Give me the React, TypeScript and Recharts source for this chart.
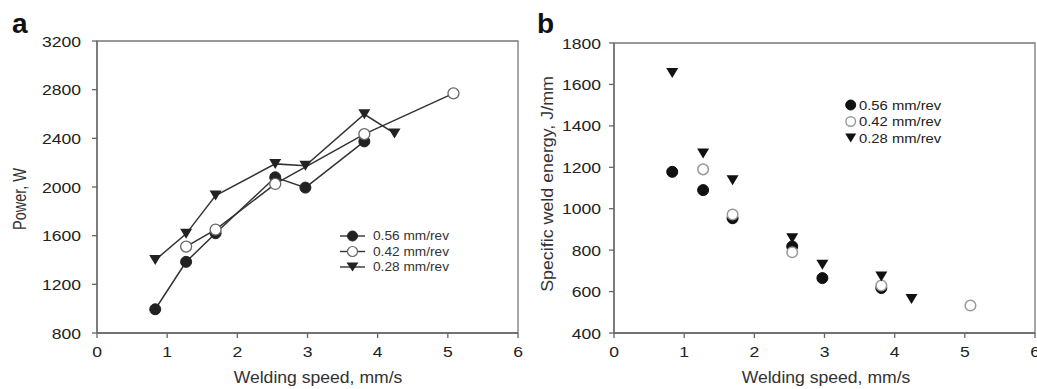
import { ScatterChart, Scatter, XAxis, YAxis, ReferenceArea, Legend } from "recharts"

// welding speed, mm/s
const speedsFull = [0.83, 1.27, 1.69, 2.54, 2.97, 3.81]
const speeds042 = [1.27, 1.69, 2.54, 3.81, 5.08]
const speeds028 = [0.83, 1.27, 1.69, 2.54, 2.97, 3.81, 4.24]

// panel a: power, W
const power056 = [995, 1385, 1620, 2080, 1995, 2375]
const power042 = [1510, 1650, 2025, 2435, 2770]
const power028 = [1400, 1615, 1930, 2190, 2175, 2598, 2440]

// panel b: specific weld energy, J/mm
const energy056 = [1178, 1090, 954, 818, 665, 617]
const energy042 = [1190, 972, 790, 629, 533]
const energy028 = [1655, 1267, 1138, 858, 729, 673, 564]

const seriesNames = ["0.56 mm/rev", "0.42 mm/rev", "0.28 mm/rev"]
const xTicks = [0, 1, 2, 3, 4, 5, 6]
const powerTicks = [800, 1200, 1600, 2000, 2400, 2800, 3200]
const energyTicks = [400, 600, 800, 1000, 1200, 1400, 1600, 1800]

const FONT = "'Liberation Sans', Arial, sans-serif"
const AXIS = "#666"

const toPoints = (xs: number[], ys: number[]) => xs.map((x, i) => ({ x, y: ys[i] }))

const dot = (r: number, fill: string, stroke: string, sw = 1) => (p: any) =>
  <circle cx={p.cx} cy={p.cy} r={r} fill={fill} stroke={stroke} strokeWidth={sw} />

const tri = (w: number, h: number, fill: string) => (p: any) =>
  <path d={`M${p.cx - w / 2},${p.cy - h / 2}L${p.cx + w / 2},${p.cy - h / 2}L${p.cx},${p.cy + h / 2}Z`} fill={fill} />

const XTick = (p: any) => (
  <text transform={`translate(${p.x},${p.y}) scale(1.17,1)`} dy={17} textAnchor="middle"
    fontSize={15} fontFamily={FONT} fill="#222">{p.payload.value}</text>
)

const YTick = (p: any) => (
  <text transform={`translate(${p.x},${p.y}) scale(1.17,1)`} dy={5.5} textAnchor="end"
    fontSize={15} fontFamily={FONT} fill="#222">{p.payload.value}</text>
)

const LegendA = () => (
  <svg width={140} height={48} style={{ display: "block" }}>
    {seriesNames.map((name, i) => {
      const cy = 8 + i * 15.5
      return (
        <g key={name}>
          <line x1={2} x2={27} y1={cy} y2={cy} stroke="#333" strokeWidth={1.4} />
          {i === 0 && dot(5, "#222", "#222")({ cx: 14.5, cy })}
          {i === 1 && dot(5, "#fff", "#666", 1.2)({ cx: 14.5, cy })}
          {i === 2 && tri(12, 9, "#222")({ cx: 14.5, cy })}
          <text transform={`translate(35,${cy}) scale(1.14,1)`} dy={4.3} fontSize={12}
            fontFamily={FONT} fill="#333">{name}</text>
        </g>
      )
    })}
  </svg>
)

const LegendB = () => (
  <svg width={140} height={52} style={{ display: "block" }}>
    {seriesNames.map((name, i) => {
      const cy = 10 + i * 16.5
      return (
        <g key={name}>
          {i === 0 && dot(5, "#111", "#111")({ cx: 10.7, cy })}
          {i === 1 && dot(4.8, "#fff", "#999", 1.4)({ cx: 10.7, cy })}
          {i === 2 && tri(11, 9, "#111")({ cx: 10.7, cy })}
          <text transform={`translate(19,${cy}) scale(1.14,1)`} dy={4.6} fontSize={13}
            fontFamily={FONT} fill="#222">{name}</text>
        </g>
      )
    })}
  </svg>
)

function PowerChart() {
  const line = { stroke: "#333", strokeWidth: 1.5 }
  return (
    <ScatterChart width={520} height={389} margin={{ top: 41, right: 2, bottom: 26, left: 37 }}>
      <XAxis type="number" dataKey="x" domain={[0, 6]} ticks={xTicks} interval={0} height={30}
        tickSize={5} tickMargin={2} stroke={AXIS} strokeWidth={1.3} tick={XTick} />
      <YAxis type="number" dataKey="y" domain={[800, 3200]} ticks={powerTicks} interval={0} width={60}
        tickSize={5} tickMargin={11} stroke={AXIS} strokeWidth={1.3} tick={YTick} />
      <ReferenceArea x1={0} x2={6} y1={800} y2={3200} fill="none" stroke="#777" strokeWidth={1.3} fillOpacity={0} />
      <Legend layout="horizontal" align="center" verticalAlign="middle" content={LegendA}
        wrapperStyle={{ left: 338, top: 228, width: 140 }} />
      <Scatter name={seriesNames[0]} data={toPoints(speedsFull, power056)} line={line} lineType="joint"
        shape={dot(5.5, "#222", "#222")} isAnimationActive={false} />
      <Scatter name={seriesNames[1]} data={toPoints(speeds042, power042)} line={line} lineType="joint"
        shape={dot(5.5, "#fff", "#666", 1.3)} isAnimationActive={false} />
      <Scatter name={seriesNames[2]} data={toPoints(speeds028, power028)} line={line} lineType="joint"
        shape={tri(12, 10, "#222")} isAnimationActive={false} />
    </ScatterChart>
  )
}

function EnergyChart() {
  return (
    <ScatterChart width={517} height={389} margin={{ top: 43, right: 2, bottom: 26, left: 34 }}>
      <XAxis type="number" dataKey="x" domain={[0, 6]} ticks={xTicks} interval={0} height={30}
        tickSize={5} tickMargin={2} stroke={AXIS} strokeWidth={1.3} tick={XTick} />
      <YAxis type="number" dataKey="y" domain={[400, 1800]} ticks={energyTicks} interval={0} width={60}
        tickSize={5} tickMargin={8} stroke={AXIS} strokeWidth={1.3} tick={YTick} />
      <ReferenceArea x1={0} x2={6} y1={400} y2={1800} fill="none" stroke="#777" strokeWidth={1.3} fillOpacity={0} />
      <Legend layout="horizontal" align="center" verticalAlign="middle" content={LegendB}
        wrapperStyle={{ left: 320, top: 95, width: 140 }} />
      <Scatter name={seriesNames[0]} data={toPoints(speedsFull, energy056)}
        shape={dot(5.5, "#111", "#111")} isAnimationActive={false} />
      <Scatter name={seriesNames[1]} data={toPoints(speeds042, energy042)}
        shape={dot(5.3, "#fff", "#999", 1.5)} isAnimationActive={false} />
      <Scatter name={seriesNames[2]} data={toPoints(speeds028, energy028)}
        shape={tri(12, 10, "#111")} isAnimationActive={false} />
    </ScatterChart>
  )
}

export default function App() {
  return (
    <div style={{ position: "absolute", left: 0, top: 0, width: 1037, height: 389, background: "#fff", fontFamily: FONT }}>
      <style>{`.recharts-surface { overflow: visible; }`}</style>
      <div style={{ position: "absolute", left: 0, top: 0 }}>
        <PowerChart />
      </div>
      <div style={{ position: "absolute", left: 520, top: 0 }}>
        <EnergyChart />
      </div>
      <svg width={1037} height={389} style={{ position: "absolute", left: 0, top: 0, pointerEvents: "none" }}>
        <text x={12} y={33} fontSize={28} fontWeight="bold" fontFamily={FONT} fill="#111">a</text>
        <text x={537} y={33} fontSize={28} fontWeight="bold" fontFamily={FONT} fill="#111">b</text>
        <text transform="translate(20,199) rotate(-90) scale(1,1.25)" dy={5} textAnchor="middle" fontSize={14.5}
          fontFamily={FONT} fill="#333">Power, W</text>
        <text transform="translate(547,184) rotate(-90) scale(1.19,1.1)" dy={5} textAnchor="middle" fontSize={15}
          fontFamily={FONT} fill="#333">Specific weld energy, J/mm</text>
        <text transform="translate(318,383) scale(1.1,1)" textAnchor="middle" fontSize={16}
          fontFamily={FONT} fill="#333">Welding speed, mm/s</text>
        <text transform="translate(826,383) scale(1.1,1)" textAnchor="middle" fontSize={16}
          fontFamily={FONT} fill="#333">Welding speed, mm/s</text>
      </svg>
    </div>
  )
}
